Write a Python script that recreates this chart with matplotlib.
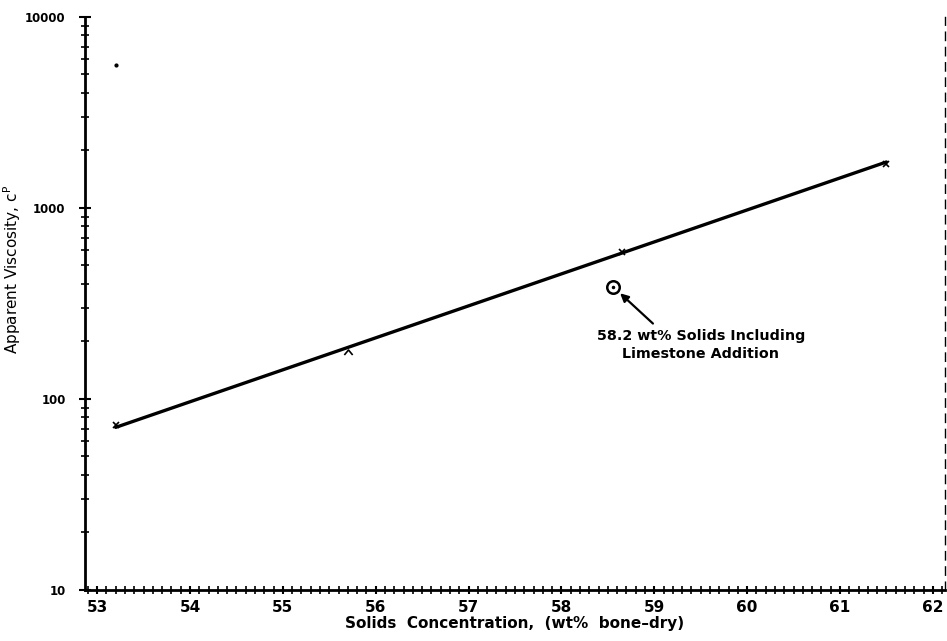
import matplotlib.pyplot as plt
from matplotlib.path import Path
from matplotlib.ticker import FixedLocator, LogLocator, NullFormatter, MultipleLocator

# fitted line through the measurements
fit_x = [53.2, 61.5]
fit_y = [71, 1740]

# measured points (x marks)
pts_x = [53.2, 58.65, 61.5]
pts_y = [73, 590, 1700]

# caret-shaped point under the line
caret_x = [55.7]
caret_y = [176]

# limestone addition sample
lime_x = [58.56]
lime_y = [385]

# stray speck near top left
speck_x = [53.2]
speck_y = [5600]

x_ticks = [53, 54, 55, 56, 57, 58, 59, 60, 61, 62]
y_ticks = [10, 100, 1000, 10000]
y_labels = ['10', '100', '1000', '10000']


def main():
    fig = plt.figure(figsize=(9.47, 6.41), dpi=100)
    ax = fig.add_axes([0.0898, 0.0796, 0.908, 0.894])

    ax.plot(fit_x, fit_y, color='black', linewidth=2.4, solid_capstyle='round')
    ax.plot(pts_x, pts_y, linestyle='none', marker='x', markersize=5,
            markeredgewidth=1.2, color='black')
    caret = Path([(-1, -0.6), (0, 0.6), (1, -0.6)],
                 [Path.MOVETO, Path.LINETO, Path.LINETO])
    ax.plot(caret_x, caret_y, linestyle='none', marker=caret, markersize=6,
            markerfacecolor='none', markeredgecolor='black', markeredgewidth=1.2)
    ax.plot(lime_x, lime_y, linestyle='none', marker='o', markersize=9,
            markerfacecolor='white', markeredgecolor='black', markeredgewidth=1.8)
    ax.plot(lime_x, lime_y, linestyle='none', marker='.', markersize=3, color='black')
    ax.plot(speck_x, speck_y, linestyle='none', marker='.', markersize=4, color='black')

    ax.annotate('58.2 wt% Solids Including\nLimestone Addition',
                xy=(lime_x[0] + 0.05, lime_y[0] * 0.95), xytext=(59.5, 232),
                ha='center', va='top', fontsize=10.3, fontweight='bold',
                linespacing=1.35,
                arrowprops=dict(arrowstyle='-|>', color='black', lw=1.6,
                                mutation_scale=12, shrinkA=3, shrinkB=2,
                                relpos=(0.3, 1.0)))

    ax.set_yscale('log')
    ax.set_xlim(52.87, 62.13)
    ax.set_ylim(10, 10000)

    ax.xaxis.set_major_locator(FixedLocator(x_ticks))
    ax.xaxis.set_minor_locator(MultipleLocator(0.1))
    ax.set_xticklabels([str(v) for v in x_ticks], fontsize=11, fontweight='bold')
    ax.yaxis.set_major_locator(FixedLocator(y_ticks))
    ax.yaxis.set_minor_locator(LogLocator(base=10, subs=range(2, 10)))
    ax.yaxis.set_minor_formatter(NullFormatter())
    ax.set_yticklabels(y_labels, fontsize=8.5, fontweight='bold')

    ax.tick_params(axis='both', which='major', direction='inout', length=8, width=1.5)
    ax.tick_params(axis='both', which='minor', direction='inout', length=6, width=1.2)
    ax.tick_params(axis='y', which='major', pad=10)
    ax.tick_params(axis='x', which='major', length=6, pad=4)

    ax.spines['top'].set_visible(False)
    ax.spines['right'].set_linestyle((0, (6, 5)))
    ax.spines['right'].set_linewidth(1.0)
    ax.spines['left'].set_linewidth(2.0)
    ax.spines['bottom'].set_linewidth(2.0)

    ax.set_xlabel('Solids  Concentration,  (wt%  bone\u2013dry)', fontsize=11,
                  fontweight='bold', labelpad=1)
    ax.set_ylabel('Apparent Viscosity, c$^{\\mathrm{P}}$', fontsize=11)
    ax.yaxis.set_label_coords(-0.072, 0.56)

    fig.savefig('out.png', dpi=100)


if __name__ == "__main__":
    main()
